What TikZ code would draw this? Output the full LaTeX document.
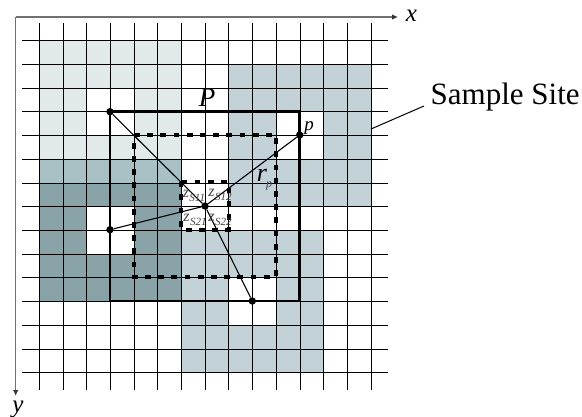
\documentclass[tikz,border=0pt]{standalone}
\usepackage{fontspec}
\setmainfont{Liberation Serif}
\usetikzlibrary{arrows.meta}
\definecolor{lightc}{HTML}{E1E9EA}
\definecolor{midc}{HTML}{A9C0C4}
\definecolor{darkc}{HTML}{8AA3A8}
\definecolor{bluec}{HTML}{C3D2D7}
\definecolor{axisc}{HTML}{707070}
\definecolor{zc}{HTML}{444444}
\newcommand{\cellblock}[5]{\fill[#1] ({39.3+23.7*#2},{40.7+23.72*#3}) rectangle ({39.3+23.7*#4},{40.7+23.72*#5});}
\newcommand{\zlabel}[1]{\itshape\fontsize{16}{16}\selectfont z\kern0.4pt\raisebox{-4.5pt}{\fontsize{11}{11}\selectfont S#1}}
\tikzset{
  gridline/.style={black,line width=0.98pt},
  axisline/.style={axisc,line width=1.5pt,-{Latex[length=6pt,width=5.5pt,black!80]}},
  boxline/.style={black,line width=2.8pt},
  dashbox/.style={black,line width=4pt,dash pattern=on 5.8pt off 7.4pt},
  spoke/.style={black,line width=1.1pt},
  dotnode/.style={circle,fill=black,inner sep=0pt,minimum size=7.4pt},
  tag/.style={inner sep=0pt,text=black},
  ztag/.style={inner sep=0pt,text=zc}
}
\begin{document}
\begin{tikzpicture}[x=1pt,y=-1pt]
\useasboundingbox (0,0) rectangle (582,417);
\fill[white] (0,0) rectangle (582,417);
% left group
\cellblock{lightc}{0}{0}{6}{2}
\cellblock{lightc}{0}{2}{2}{4}
\cellblock{lightc}{4}{2}{6}{4}
\cellblock{lightc}{0}{4}{6}{5}
\cellblock{midc}{0}{5}{6}{6}
\cellblock{darkc}{0}{6}{6}{7}
\cellblock{darkc}{0}{7}{2}{9}
\cellblock{darkc}{4}{7}{6}{9}
\cellblock{darkc}{0}{9}{6}{11}
% right group
\cellblock{bluec}{8}{1}{14}{3}
\cellblock{bluec}{8}{3}{10}{5}
\cellblock{bluec}{12}{3}{14}{5}
\cellblock{bluec}{8}{5}{14}{7}
\cellblock{bluec}{6}{8}{12}{10}
\cellblock{bluec}{6}{10}{8}{12}
\cellblock{bluec}{10}{10}{12}{12}
\cellblock{bluec}{6}{12}{12}{14}
% grid
\foreach \i in {0,...,14} {
  \draw[gridline] ({39.3+23.7*\i},23) -- ({39.3+23.7*\i},390);
  \draw[gridline] (22,{40.7+23.72*\i}) -- (388,{40.7+23.72*\i});
}
% axes
\coordinate (o) at (15.7,17);
\coordinate (xe) at (398,17);
\coordinate (ye) at (15.7,396);
\draw[axisline] (o) -- (xe);
\draw[axisline] (o) -- (ye);
\node[tag,font=\fontsize{25}{25}\selectfont\itshape] (xl) at (411.5,15.5) {x};
\node[tag,font=\fontsize{25}{25}\selectfont\itshape] (yl) at (18,409) {y};
% boxes
\draw[boxline] (110,111.7) rectangle (299.7,301);
\draw[dashbox] (134,135) -- (276,135) -- (276,277) -- (134,277) -- cycle;
\draw[dashbox] (181.3,182.3) -- (228.7,182.3) -- (228.7,229.7) -- (181.3,229.7) -- cycle;
% spokes
\node[dotnode] (c) at (205,206) {};
\node[dotnode] (a) at (110,111.7) {};
\node[dotnode] (b) at (299.7,135) {};
\node[dotnode] (d) at (110,229.7) {};
\node[dotnode] (e) at (252.3,301) {};
\draw[spoke] (c) -- (a);
\draw[spoke] (c) -- (b);
\draw[spoke] (c) -- (d);
\draw[spoke] (c) -- (e);
% labels
\node[tag,font=\fontsize{27}{27}\selectfont\itshape] (pl) at (207,98) {P};
\node[tag,font=\fontsize{19}{19}\selectfont\itshape] (sp) at (309,128) {p};
\node[tag,font=\fontsize{26}{26}\selectfont\itshape] (rl) at (262,175.5) {r};
\node[ztag,font=\fontsize{12}{12}\selectfont\itshape] (rp) at (269,186) {p};
\node[ztag] (z11) at (194,196) {\zlabel{11}};
\node[ztag] (z12) at (220,195) {\zlabel{12}};
\node[ztag] (z21) at (195,220) {\zlabel{21}};
\node[ztag] (z22) at (220,220) {\zlabel{22}};
% sample site
\node[tag,font=\fontsize{31}{31}\selectfont,anchor=west] (site) at (430.5,97) {Sample Site};
\coordinate (cellpt) at (371,129);
\coordinate (sitept) at (424,106);
\draw[black,line width=1pt] (cellpt) -- (sitept);
\end{tikzpicture}
\end{document}
